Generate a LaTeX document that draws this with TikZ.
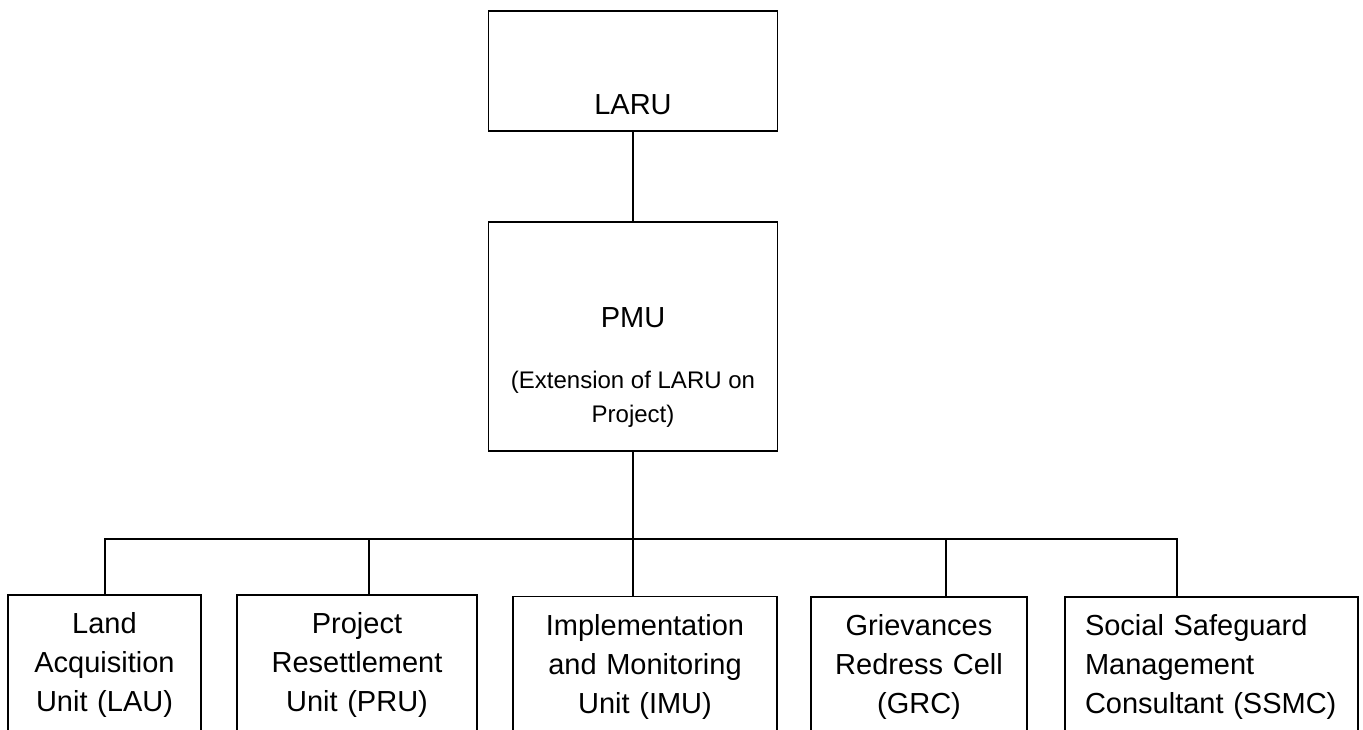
\documentclass[tikz,border=0pt]{standalone}
\usepackage{fontspec}
\setmainfont{Liberation Sans}
\usetikzlibrary{positioning}

\begin{document}
\begin{tikzpicture}[x=1pt, y=-1pt, line width=1.6pt,
		font=\fontsize{29}{39}\selectfont,
		box/.style={draw, rectangle, inner sep=0pt},
		unit/.style={box, minimum height=140pt, inner xsep=8pt, align=center}]
		\useasboundingbox (0,0) rectangle (1363,730);
		\clip (0,0) rectangle (1363,730);
		\node (laru) [box, minimum width=289pt, text height=104pt, text depth=16pt] at (633,71) {LARU};
		\node (pmu) [box, minimum width=289pt, minimum height=229pt] at (633,336.5) {};
		\node (pmutitle) [anchor=base] at (633,327) {PMU};
		\node (pmunote) [font=\fontsize{24}{34}\selectfont, align=center] at (633,399) {(Extension of LARU on\\Project)};
		\node (lau) [unit, minimum width=193pt, text width=177pt] at (104.5,665) {Land\\Acquisition\\Unit (LAU)};
		\node (pru) [unit, minimum width=240pt, text width=224pt] at (357,665) {Project\\Resettlement\\Unit (PRU)};
		\node (imu) [unit, minimum width=264pt, text width=248pt] at (645,666.5) {Implementation\\and Monitoring\\Unit (IMU)};
		\node (grc) [unit, minimum width=216pt, text width=200pt] at (919,667) {Grievances\\Redress Cell\\(GRC)};
		\node (ssmc) [unit, minimum width=293pt, text width=253pt, inner xsep=20pt, align=left] at (1211.5,667) {Social Safeguard\\Management\\Consultant (SSMC)};
		\coordinate (jlau) at (105,539);
		\coordinate (jpru) at (369,539);
		\coordinate (jimu) at (633,539);
		\coordinate (jgrc) at (946,539);
		\coordinate (jssmc) at (1177,539);
		\draw (laru) -- (pmu);
		\draw (pmu) -- (jimu);
		\draw (jlau |- lau.north) -- (jlau) -- (jssmc) -- (jssmc |- ssmc.north);
		\draw (jpru) -- (jpru |- pru.north);
		\draw (jimu) -- (jimu |- imu.north);
		\draw (jgrc) -- (jgrc |- grc.north);
\end{tikzpicture}
\end{document}
